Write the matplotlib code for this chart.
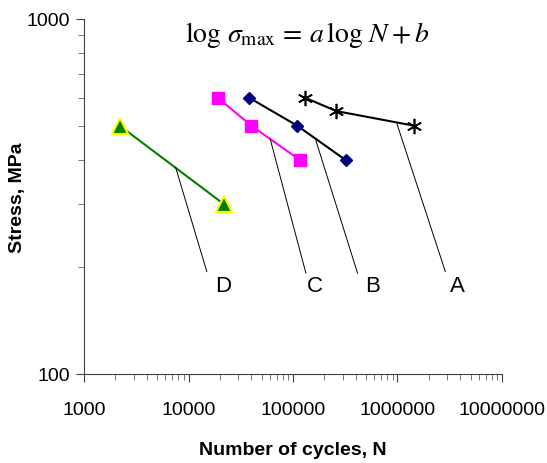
import matplotlib
matplotlib.use('Agg')
import matplotlib.pyplot as plt
import numpy as np
from matplotlib.ticker import FuncFormatter, LogLocator, NullFormatter

plt.rcParams['font.family'] = ['Liberation Sans', 'DejaVu Sans']
plt.rcParams['mathtext.fontset'] = 'stix'

# data
n_a = [130000, 260000, 1450000]
s_a = [600, 550, 500]
n_b = [38000, 110000, 320000]
s_b = [600, 500, 400]
n_c = [19000, 40000, 117000]
s_c = [600, 500, 400]
n_d = [2200, 22000]
s_d = [500, 300]

labels = ['A', 'B', 'C', 'D']
# leader lines: (start N, start stress, end N, end stress, label N, label stress)
leaders = {
    'A': (989000, 506, 2870000, 194, 3710000, 177),
    'B': (165700, 454, 414700, 192, 582500, 177),
    'C': (60470, 459, 132900, 192, 163200, 177),
    'D': (7520, 382, 14970, 194, 21600, 177),
}

fig = plt.figure(figsize=(5.47, 4.64), dpi=100)
ax = fig.add_axes([0.1536, 0.1925, 0.7641, 0.7644])

ax.plot(n_d, s_d, color='#008000', lw=1.5, marker='^', ms=11,
        mfc='#008000', mec='#FFFF00', mew=1.5)
ax.plot(n_c, s_c, color='#FF00FF', lw=1.5, marker='s', ms=9,
        mfc='#FF00FF', mec='#FF00FF')
ax.plot(n_b, s_b, color='black', lw=1.5, marker='D', ms=6.5,
        mfc='#000080', mec='#000080')
ax.plot(n_a, s_a, color='black', lw=1.5, marker=(6, 2, 0), ms=11,
        mec='black', mew=1.2)

for k in labels:
    x0, y0, x1, y1, xt, yt = leaders[k]
    ax.plot([x0, x1], [y0, y1], color='black', lw=0.7)
    ax.text(xt, yt, k, fontsize=16, ha='center', va='center')

ax.text(0.533, 0.958, r'$\log\,\sigma_{\max} \,=\, a\,\log\,N + b$', transform=ax.transAxes,
        fontsize=20, ha='center', va='center')

ax.set_xscale('log')
ax.set_yscale('log')
ax.set_xlim(1000, 1e7)
ax.set_ylim(100, 1000)

fmt = FuncFormatter(lambda v, p: '%d' % v)
ax.xaxis.set_major_formatter(fmt)
ax.yaxis.set_major_formatter(fmt)
ax.xaxis.set_minor_formatter(NullFormatter())
ax.yaxis.set_minor_formatter(NullFormatter())
ax.xaxis.set_minor_locator(LogLocator(base=10, subs=np.arange(2, 10)))
ax.yaxis.set_minor_locator(LogLocator(base=10, subs=np.arange(2, 10)))

for s in ['top', 'right']:
    ax.spines[s].set_visible(False)
for s in ['left', 'bottom']:
    ax.spines[s].set_color('#404040')
ax.tick_params(which='major', length=6, color='#404040', labelsize=14)
ax.tick_params(which='minor', length=4, color='#606060')
ax.tick_params(axis='x', which='major', pad=14)
ax.tick_params(axis='y', which='major', pad=4)

ax.set_xlabel('Number of cycles, N', fontsize=14, fontweight='bold')
ax.set_ylabel('Stress, MPa', fontsize=14, fontweight='bold')
ax.xaxis.set_label_coords(0.5, -0.19)
ax.yaxis.set_label_coords(-0.139, 0.5)

fig.savefig('out.png', dpi=100)
